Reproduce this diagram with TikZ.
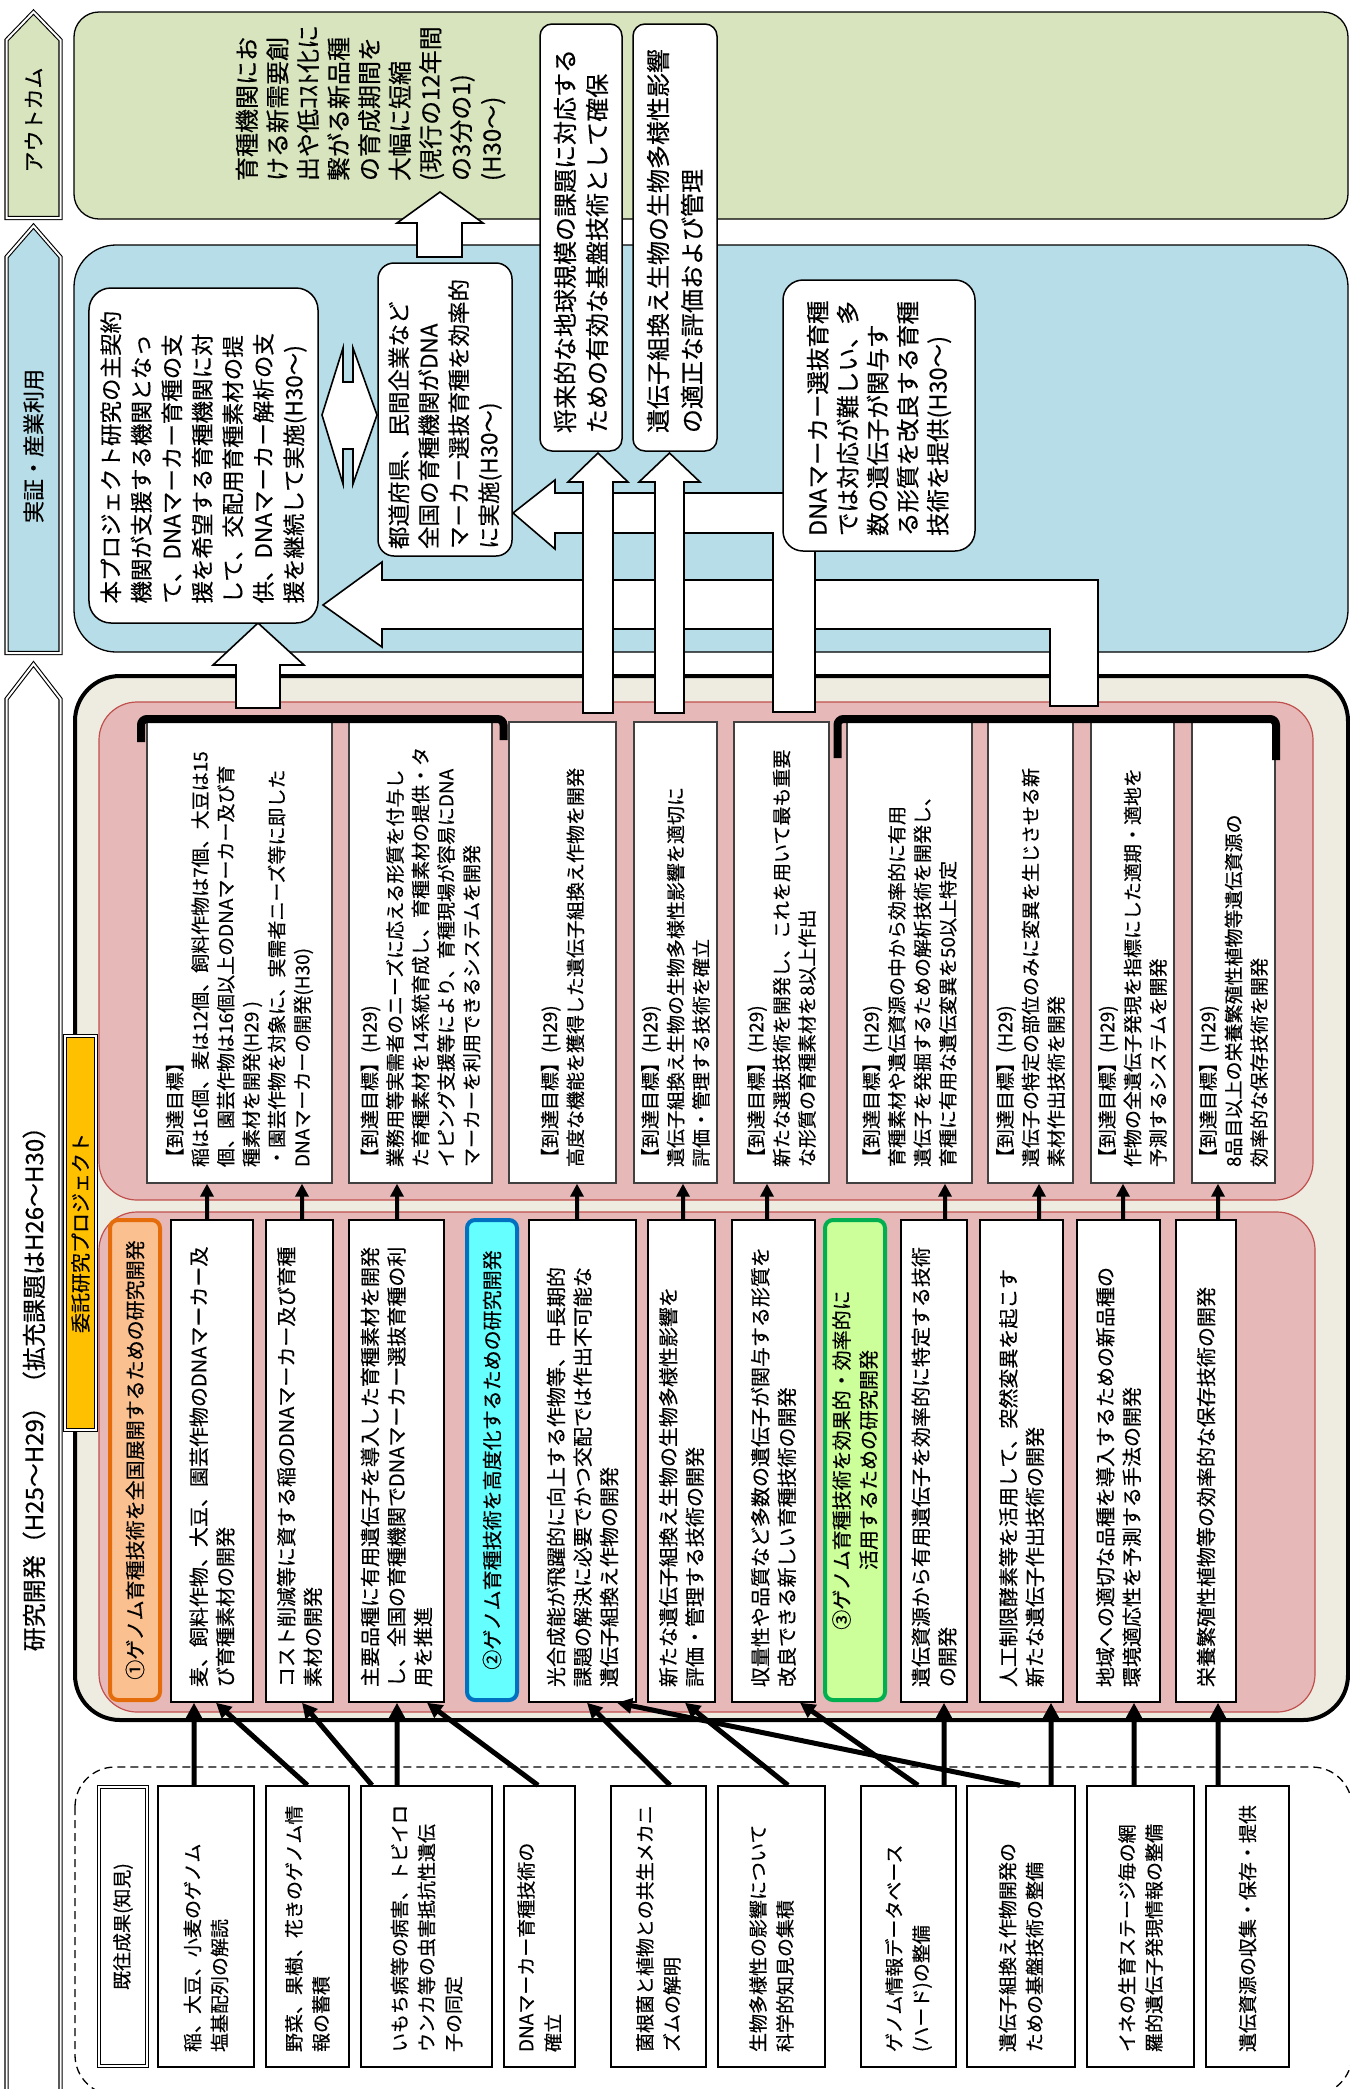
\documentclass[tikz,border=0pt]{standalone}
\usepackage{graphicx}
\usepackage{fontspec}
\setmainfont{Noto Sans CJK JP}[FakeBold=0.35]
\usetikzlibrary{arrows.meta}
\newcommand{\rt}[2]{\rotatebox{90}{\parbox{#1}{\raggedright #2}}}
\newcommand{\rc}[2]{\rotatebox{90}{\parbox{#1}{\centering #2}}}
\definecolor{cgreen}{HTML}{D7E4BD}
\definecolor{cblue}{HTML}{B7DEE8}
\definecolor{cbeige}{HTML}{EEECE1}
\definecolor{cpink}{HTML}{E6B9B8}
\definecolor{cpinkline}{HTML}{C0504D}
\definecolor{corfill}{HTML}{FAC090}
\definecolor{corline}{HTML}{E46C0A}
\definecolor{ccyan}{HTML}{66FFFF}
\definecolor{ccyanline}{HTML}{0070C0}
\definecolor{clime}{HTML}{CCFF99}
\definecolor{climeline}{HTML}{00B050}
\definecolor{cyellow}{HTML}{FFC000}
\tikzset{
 phaseshape/.style={draw=black, double, double distance=2bp, line width=1.1bp},
 tgtbox/.style={draw=black!75, line width=1.3bp, fill=white, inner sep=0pt, font=\fontsize{19bp}{25.5bp}\selectfont},
 resbox/.style={draw=black, line width=1.5bp, fill=white, inner sep=0pt, font=\fontsize{20bp}{26.5bp}\selectfont},
 knowbox/.style={draw=black, line width=1.5bp, fill=white, inner sep=0pt, font=\fontsize{19bp}{27bp}\selectfont},
 hdrbox/.style={line width=4bp, rounded corners=8bp, inner sep=0pt, font=\fontsize{20bp}{27bp}\selectfont},
 bluebox/.style={draw=black, line width=1.5bp, fill=white, inner sep=0pt},
 blockarrow/.style={draw=black, line width=1.6bp, fill=white, line join=miter},
 karrow/.style={line width=5bp, -{Triangle[length=15bp,width=15bp]}},
 tarrow/.style={line width=4bp, -{Triangle[length=13bp,width=13bp]}},
 bracketline/.style={line width=8bp, rounded corners=6bp},
}
\begin{document}
\begin{tikzpicture}[x=1bp,y=-1bp]
\useasboundingbox (0,0) rectangle (1350,2089);
\fill[white] (0,0) rectangle (1350,2089);
% phase shapes
\draw[phaseshape, fill=cgreen] (6.5,40) -- (33.5,12) -- (60.5,40) -- (60.5,218) -- (6.5,218) -- cycle;
\node[rotate=90, font=\fontsize{21bp}{24bp}\selectfont] (ph1) at (33.5,120) {アウトカム};
\draw[phaseshape, fill=cblue] (6.5,257) -- (33.5,226) -- (60.5,257) -- (60.5,653) -- (6.5,653) -- cycle;
\node[rotate=90, font=\fontsize{22bp}{24bp}\selectfont] (ph2) at (33.5,446) {実証・産業利用};
\draw[phaseshape, fill=white] (6.5,699) -- (33.5,664) -- (60.5,699) -- (60.5,2110) -- (6.5,2110) -- cycle;
\node[rotate=90, font=\fontsize{24bp}{26bp}\selectfont] (ph3) at (34,1383) {研究開発（H25～H29）（拡充課題はH26～H30）};
% regions
\draw[fill=cgreen, line width=1.3bp, rounded corners=25bp] (74,12) rectangle (1348,219);
\draw[fill=cblue, line width=1.3bp, rounded corners=42bp] (74,245) rectangle (1348,652);
\draw[fill=cbeige, line width=4bp, rounded corners=45bp] (75,676) rectangle (1348,1720);
\node[draw=black, double, double distance=1.5bp, line width=1bp, fill=cyellow, minimum width=31bp, minimum height=394bp, inner sep=0pt, font=\fontsize{20bp}{22bp}\selectfont] (yl) at (80.5,1233) {\rotatebox{90}{委託研究プロジェクト}};
\draw[fill=cpink, draw=cpinkline, line width=1.2bp, rounded corners=38bp] (99,702) rectangle (1313,1200);
\draw[fill=cpink, draw=cpinkline, line width=1.2bp, rounded corners=38bp] (99,1212) rectangle (1315,1712);
\draw[dash pattern=on 8bp off 5bp, line width=1.3bp, rounded corners=40bp] (75,1767) rectangle (1352,2095);
% block arrows
\draw[blockarrow] (323,605) -- (382,562) -- (382,580) -- (1098,580) -- (1098,706) -- (1050,706) -- (1050,629) -- (382,629) -- (382,647) -- cycle;
\draw[blockarrow] (513,513) -- (555,480) -- (555,493) -- (815,493) -- (815,712) -- (773,712) -- (773,533) -- (555,533) -- (555,549) -- cycle;
\draw[blockarrow] (598,453) -- (628,482) -- (613,482) -- (613,713) -- (583,713) -- (583,482) -- (568,482) -- cycle;
\draw[blockarrow] (669.5,453) -- (700,482) -- (684,482) -- (684,713) -- (655,713) -- (655,482) -- (639,482) -- cycle;
\draw[blockarrow] (258,623) -- (304,665) -- (280,665) -- (280,708) -- (236,708) -- (236,665) -- (213,665) -- cycle;
\draw[blockarrow] (440,192) -- (483,223) -- (462,223) -- (462,257) -- (417,257) -- (417,223) -- (397,223) -- cycle;
\draw[blockarrow] (322,415) -- (343,348) -- (343,382) -- (353,382) -- (353,348) -- (377,415) -- (353,484) -- (353,449) -- (343,449) -- (343,484) -- cycle;
% outcome text
\node[inner sep=0pt, font=\fontsize{24bp}{30.6bp}\selectfont] (out) at (370.5,96) {\rt{170bp}{育種機関にお\\ける新需要創\\出や低ｺｽﾄ化に\\繋がる新品種\\の育成期間を\\大幅に短縮\\(現行の12年間\\の3分の1)\\(H30～)}};
% blue region boxes
\node[bluebox, rounded corners=22bp, minimum width=229bp, minimum height=335bp, font=\fontsize{22.5bp}{30.5bp}\selectfont] (B1) at (203.5,455.5) {\rt{296bp}{本プロジェクト研究の主契約\\機関が支援する機関となっ\\て、DNAマーカー育種の支\\援を希望する育種機関に対\\して、交配用育種素材の提\\供、DNAマーカー解析の支\\援を継続して実施(H30～)}};
\node[bluebox, rounded corners=16bp, minimum width=134bp, minimum height=293bp, font=\fontsize{22.5bp}{30bp}\selectfont] (B2) at (445,409.5) {\rt{279bp}{都道府県、民間企業など\\全国の育種機関がDNA\\マーカー選抜育種を効率的\\に実施(H30～)}};
\node[bluebox, rounded corners=12bp, minimum width=82bp, minimum height=427bp, font=\fontsize{24bp}{32bp}\selectfont] (B3) at (581,237.5) {\rt{391bp}{将来的な地球規模の課題に対応する\\ための有効な基盤技術として確保}};
\node[bluebox, rounded corners=12bp, minimum width=84bp, minimum height=427bp, font=\fontsize{24bp}{34bp}\selectfont] (B4) at (675,237.5) {\rt{391bp}{遺伝子組換え生物の生物多様性影響\\の適正な評価および管理}};
\node[bluebox, rounded corners=20bp, minimum width=192bp, minimum height=271bp, font=\fontsize{23.5bp}{30bp}\selectfont] (B5) at (879,415.5) {\rt{241bp}{DNAマーカー選抜育種\\では対応が難しい、多\\数の遺伝子が関与す\\る形質を改良する育種\\技術を提供(H30～)}};
% target boxes
\node[tgtbox, minimum width=185bp, minimum height=461bp] (T1) at (239.5,952.5) {\rt{429bp}{【到達目標】\\稲は16個、麦は12個、飼料作物は7個、大豆は15\\個、園芸作物は16個以上のDNAマーカー及び育\\種素材を開発(H29 )\\・園芸作物を対象に、実需者ニーズ等に即した\\DNAマーカーの開発(H30)}};
\node[tgtbox, minimum width=143bp, minimum height=461bp] (T2) at (420.5,952.5) {\rt{429bp}{【到達目標】(H29)\\業務用等実需者のニーズに応える形質を付与し\\た育種素材を14系統育成し、育種素材の提供・タ\\イピング支援等により、育種現場が容易にDNA\\マーカーを利用できるシステムを開発}};
\node[tgtbox, minimum width=107bp, minimum height=461bp] (T3) at (562.5,952.5) {\rt{429bp}{【到達目標】(H29)\\高度な機能を獲得した遺伝子組換え作物を開発}};
\node[tgtbox, minimum width=83bp, minimum height=461bp] (T4) at (675.5,952.5) {\rt{429bp}{【到達目標】(H29)\\遺伝子組換え生物の生物多様性影響を適切に\\評価・管理する技術を確立}};
\node[tgtbox, minimum width=95bp, minimum height=461bp] (T5) at (781.5,952.5) {\rt{429bp}{【到達目標】(H29)\\新たな選抜技術を開発し、これを用いて最も重要\\な形質の育種素材を8以上作出}};
\node[tgtbox, minimum width=125bp, minimum height=461bp] (T6) at (909.5,952.5) {\rt{429bp}{【到達目標】(H29)\\育種素材や遺伝資源の中から効率的に有用\\遺伝子を発掘するための解析技術を開発し、\\育種に有用な遺伝変異を50以上特定}};
\node[tgtbox, minimum width=85bp, minimum height=461bp] (T7) at (1030.5,952.5) {\rt{429bp}{【到達目標】(H29)\\遺伝子の特定の部位のみに変異を生じさせる新\\素材作出技術を開発}};
\node[tgtbox, minimum width=83bp, minimum height=461bp] (T8) at (1132.5,952.5) {\rt{429bp}{【到達目標】(H29)\\作物の全遺伝子発現を指標にした適期・適地を\\予測するシステムを開発}};
\node[tgtbox, minimum width=83bp, minimum height=461bp] (T9) at (1233.5,952.5) {\rt{429bp}{【到達目標】(H29)\\8品目以上の栄養繁殖性植物等遺伝資源の\\効率的な保存技術を開発}};
\draw[bracketline] (141,742) -- (141,719) -- (503.5,719) -- (503.5,740);
\draw[bracketline] (837.5,758) -- (837.5,719) -- (1276,719) -- (1276,760);
% research headers and boxes
\node[hdrbox, draw=corline, fill=corfill, minimum width=50bp, minimum height=480bp] (H1) at (135,1460) {\rc{460bp}{①ゲノム育種技術を全国展開するための研究開発}};
\node[hdrbox, draw=ccyanline, fill=ccyan, minimum width=50bp, minimum height=480bp] (H2) at (492,1460) {\rc{460bp}{②ゲノム育種技術を高度化するための研究開発}};
\node[hdrbox, draw=climeline, fill=clime, minimum width=60bp, minimum height=480bp] (H3) at (855,1460) {\rc{460bp}{③ゲノム育種技術を効果的・効率的に\\活用するための研究開発}};
\node[resbox, minimum width=82bp, minimum height=482bp] (R1) at (212,1461) {\rt{452bp}{麦、飼料作物、大豆、園芸作物のDNAマーカー及\\び育種素材の開発}};
\node[resbox, minimum width=67bp, minimum height=482bp] (R2) at (299.5,1461) {\rt{452bp}{コスト削減等に資する稲のDNAマーカー及び育種\\素材の開発}};
\node[resbox, minimum width=95bp, minimum height=482bp] (R3) at (396.5,1461) {\rt{452bp}{主要品種に有用遺伝子を導入した育種素材を開発\\し、全国の育種機関でDNAマーカー選抜育種の利\\用を推進}};
\node[resbox, minimum width=107bp, minimum height=482bp] (R4) at (582.5,1461) {\rt{452bp}{光合成能が飛躍的に向上する作物等、中長期的\\課題の解決に必要でかつ交配では作出不可能な\\遺伝子組換え作物の開発}};
\node[resbox, minimum width=67bp, minimum height=482bp] (R5) at (681.5,1461) {\rt{452bp}{新たな遺伝子組換え生物の生物多様性影響を\\評価・管理する技術の開発}};
\node[resbox, minimum width=83bp, minimum height=482bp] (R6) at (773.5,1461) {\rt{452bp}{収量性や品質など多数の遺伝子が関与する形質を\\改良できる新しい育種技術の開発}};
\node[resbox, minimum width=66bp, minimum height=482bp] (R7) at (934,1461) {\rt{452bp}{遺伝資源から有用遺伝子を効率的に特定する技術\\の開発}};
\node[resbox, minimum width=83bp, minimum height=482bp] (R8) at (1021.5,1461) {\rt{452bp}{人工制限酵素等を活用して、突然変異を起こす\\新たな遺伝子作出技術の開発}};
\node[resbox, minimum width=83bp, minimum height=482bp] (R9) at (1118.5,1461) {\rt{452bp}{地域への適切な品種を導入するための新品種の\\環境適応性を予測する手法の開発}};
\node[resbox, minimum width=60bp, minimum height=482bp] (R10) at (1206,1461) {\rt{452bp}{栄養繁殖性植物等の効率的な保存技術の開発}};
% known results
\node[knowbox, double, double distance=2bp, line width=1.1bp, minimum width=48bp, minimum height=279bp] (K0) at (123,1926.5) {\rc{251bp}{既往成果(知見)}};
\node[knowbox, minimum width=96bp, minimum height=281bp] (K1) at (206,1926.5) {\rt{251bp}{稲、大豆、小麦のゲノム\\塩基配列の解読}};
\node[knowbox, minimum width=83bp, minimum height=281bp] (K2) at (307.5,1926.5) {\rt{251bp}{野菜、果樹、花きのゲノム情\\報の蓄積}};
\node[knowbox, minimum width=131bp, minimum height=281bp] (K3) at (426.5,1926.5) {\rt{251bp}{いもち病等の病害、トビイロ\\ウンカ等の虫害抵抗性遺伝\\子の同定}};
\node[knowbox, minimum width=71bp, minimum height=281bp] (K4) at (539.5,1926.5) {\rt{251bp}{DNAマーカー育種技術の\\確立}};
\node[knowbox, minimum width=95bp, minimum height=281bp] (K5) at (658.5,1926.5) {\rt{251bp}{菌根菌と植物との共生メカニ\\ズムの解明}};
\node[knowbox, minimum width=107bp, minimum height=281bp] (K6) at (771.5,1926.5) {\rt{251bp}{生物多様性の影響について\\科学的知見の集積}};
\node[knowbox, minimum width=95bp, minimum height=281bp] (K7) at (908.5,1926.5) {\rt{251bp}{ゲノム情報データベース\\(ハード)の整備}};
\node[knowbox, minimum width=108bp, minimum height=281bp] (K8) at (1021,1926.5) {\rt{251bp}{遺伝子組換え作物開発の\\ための基盤技術の整備}};
\node[knowbox, minimum width=107bp, minimum height=281bp] (K9) at (1140.5,1926.5) {\rt{251bp}{イネの生育ステージ毎の網\\羅的遺伝子発現情報の整備}};
\node[knowbox, minimum width=83bp, minimum height=281bp] (K10) at (1247.5,1926.5) {\rt{251bp}{遺伝資源の収集・保存・提供}};
% arrows known -> research
\draw[karrow] ([xshift=-12bp]K1.north) -- ([xshift=-18bp]R1.south);
\draw[karrow] (K2.north) -- ([xshift=4bp]R1.south);
\draw[karrow] ([xshift=-54.5bp]K3.north) -- ([xshift=2.5bp]R2.south);
\draw[karrow] ([xshift=-29.5bp]K3.north) -- ([xshift=0.5bp]R3.south);
\draw[karrow] ([xshift=-1.5bp]K4.north) -- ([xshift=30.5bp]R3.south);
\draw[karrow] ([xshift=11.5bp]K5.north) -- ([xshift=4.5bp]R4.south);
\draw[karrow] ([xshift=16.5bp]K6.north) -- ([xshift=3.5bp]R5.south);
\draw[karrow] ([xshift=9.5bp]K7.north) -- ([xshift=26.5bp]R6.south);
\draw[karrow] ([xshift=35.5bp]K7.north) -- ([xshift=10bp]R7.south);
\draw[karrow] ([xshift=-1bp]K8.north) -- ([xshift=34.5bp]R4.south);
\draw[karrow] ([xshift=30bp]K8.north) -- ([xshift=29.5bp]R8.south);
\draw[karrow] ([xshift=-6.5bp]K9.north) -- ([xshift=15.5bp]R9.south);
\draw[karrow] ([xshift=-29.5bp]K10.north) -- ([xshift=12bp]R10.south);
% arrows research -> targets
\draw[tarrow] ([xshift=-5bp]R1.north) -- ([xshift=-32.5bp]T1.south);
\draw[tarrow] ([xshift=2.5bp]R2.north) -- ([xshift=62.5bp]T1.south);
\draw[tarrow] ([xshift=0.5bp]R3.north) -- ([xshift=-23.5bp]T2.south);
\draw[tarrow] ([xshift=-5.5bp]R4.north) -- ([xshift=14.5bp]T3.south);
\draw[tarrow] ([xshift=1.5bp]R5.north) -- ([xshift=7.5bp]T4.south);
\draw[tarrow] ([xshift=-6.5bp]R6.north) -- ([xshift=-14.5bp]T5.south);
\draw[tarrow] ([xshift=11bp]R7.north) -- ([xshift=35.5bp]T6.south);
\draw[tarrow] ([xshift=17.5bp]R8.north) -- ([xshift=8.5bp]T7.south);
\draw[tarrow] ([xshift=4.5bp]R9.north) -- ([xshift=-9.5bp]T8.south);
\draw[tarrow] ([xshift=12bp]R10.north) -- ([xshift=-15.5bp]T9.south);
\end{tikzpicture}
\end{document}
